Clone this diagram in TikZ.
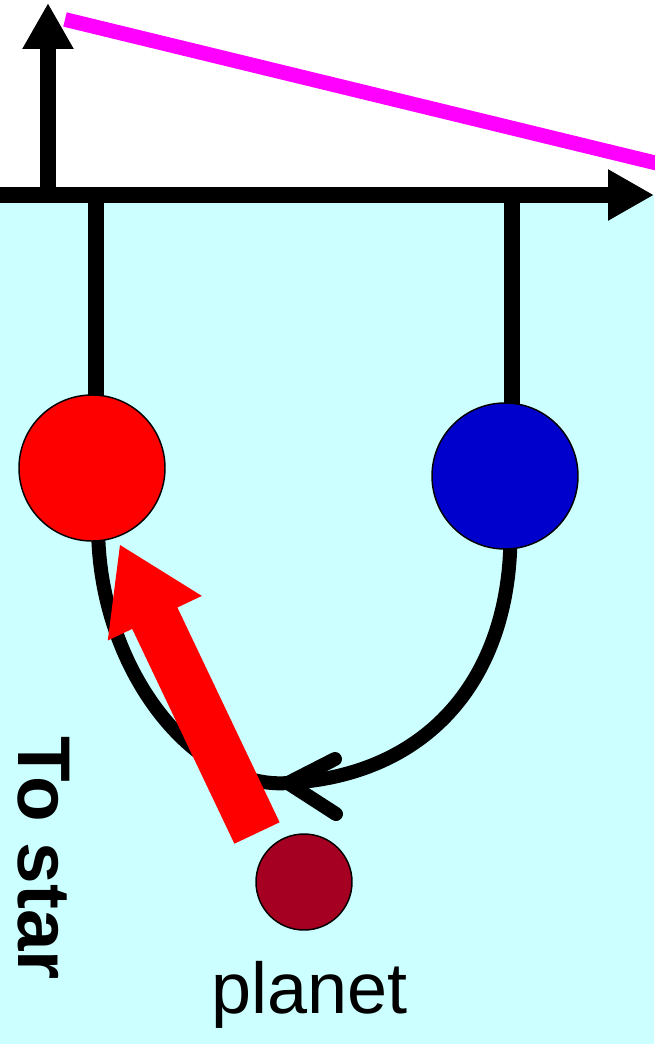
\documentclass[tikz,border=0pt]{standalone}
\usepackage{fontspec}
\setmainfont{Liberation Sans}
\usetikzlibrary{arrows.meta}
\definecolor{bgcyan}{HTML}{CCFFFF}
\definecolor{magline}{HTML}{FF00FF}
\definecolor{redball}{HTML}{FF0000}
\definecolor{blueball}{HTML}{0000CC}
\definecolor{planetc}{RGB}{165,0,33}
\pgfdeclarelayer{back}
\pgfsetlayers{back,main}
\tikzset{
  ball/.style={circle, draw=black, line width=1.1pt, minimum size=109.5pt, inner sep=0pt},
  axisline/.style={line width=12pt, -{Triangle[length=34.5pt,width=36pt]}},
  rod/.style={line width=12pt},
  orbit/.style={line width=10.5pt},
  label/.style={inner sep=0pt}
}
\begin{document}
\begin{tikzpicture}[x=0.75pt,y=-0.75pt]
\useasboundingbox (0,0) rectangle (654,1044);
% nodes
\node[ball, fill=redball] (red) at (92,468) {};
\node[ball, fill=blueball] (blue) at (505,476) {};
\node[ball, fill=planetc, minimum size=72pt] (planet) at (304,882) {};
\coordinate (O) at (48,195);
\coordinate (xstart) at (0,195);
\coordinate (xend) at (654,195);
\coordinate (yend) at (48,3);
\coordinate (lt) at (96,195);
\coordinate (lb) at (96,430);
\coordinate (rt) at (512,195);
\coordinate (rb) at (512,430);
\coordinate (tip) at (288,783);
\coordinate (armu) at (335,759);
\coordinate (arml) at (336,814);
\begin{pgfonlayer}{back}
\fill[white] (0,0) rectangle (654,195);
\fill[bgcyan] (0,195) rectangle (654,1044);
\draw[magline, line width=11pt] (65,19.5) -- (662,164.5);
\draw[axisline] (xstart) -- (xend);
\draw[axisline] (O) -- (yend);
\draw[rod] (lt) -- (lb);
\draw[rod] (rt) -- (rb);
\draw[orbit] (blue.center) -- (blue.-86) .. controls (505,680) and (428,775) .. (tip)
  .. controls (200,790) and (105,680) .. (red.-85) -- (red.center);
\draw[orbit, line cap=round, line join=round] (armu) -- (tip) -- (arml);
\end{pgfonlayer}
% red arrow toward the star
\fill[redball] (234.4,843.7) -- (132.2,628.9) -- (107.8,640.5) -- (120,545)
  -- (201.8,595.9) -- (177.4,607.5) -- (279.6,822.3) -- cycle;
% labels
\node[label, font=\fontsize{54}{60}\selectfont, anchor=base] (plabel) at (309.5,1013) {planet};
\node[label, font=\bfseries\fontsize{56}{60}\selectfont, rotate=-90, anchor=base west] (tostar) at (18,736) {To star};
\end{tikzpicture}
\end{document}
